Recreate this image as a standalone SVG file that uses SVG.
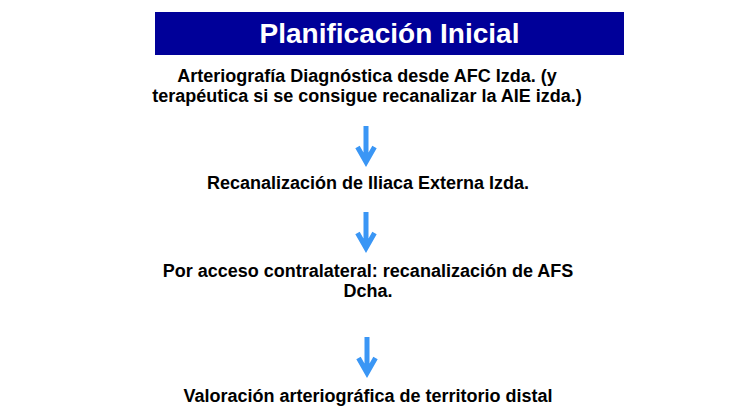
<svg xmlns="http://www.w3.org/2000/svg" width="732" height="420" viewBox="0 0 732 420">
<style>
.t{font-family:"Liberation Sans",Arial,sans-serif;font-weight:bold;font-size:18px;fill:#000;text-anchor:middle}
.title{font-family:"Liberation Sans",Arial,sans-serif;font-weight:bold;font-size:28px;fill:#fff;text-anchor:middle}
.arr{fill:none;stroke:#3A96F5;stroke-width:5;stroke-linejoin:miter;stroke-miterlimit:10}
</style>
<rect width="732" height="420" fill="#fff"/>
<g id="title">
<rect x="155" y="12" width="469" height="43" fill="#000099"/>
<text class="title" x="389.5" y="43">Planificación Inicial</text>
</g>
<g id="step1">
<text class="t" x="367" y="82">Arteriografía Diagnóstica desde AFC Izda. (y</text>
<text class="t" x="367" y="102">terapéutica si se consigue recanalizar la AIE izda.)</text>
</g>
<g id="step2">
<text class="t" x="368" y="189">Recanalización de Iliaca Externa Izda.</text>
</g>
<g id="step3">
<text class="t" x="368" y="277">Por acceso contralateral: recanalización de AFS</text>
<text class="t" x="368" y="297">Dcha.</text>
</g>
<g id="step4">
<text class="t" x="368" y="402">Valoración arteriográfica de territorio distal</text>
</g>
<g id="connectors">
<path class="arr" d="M366 126V162M357.5 147L366 162L374.5 147"/>
<path class="arr" d="M366 212V248M357.5 233L366 248L374.5 233"/>
<path class="arr" d="M367 337V373M358.5 358L367 373L375.5 358"/>
</g>
</svg>
